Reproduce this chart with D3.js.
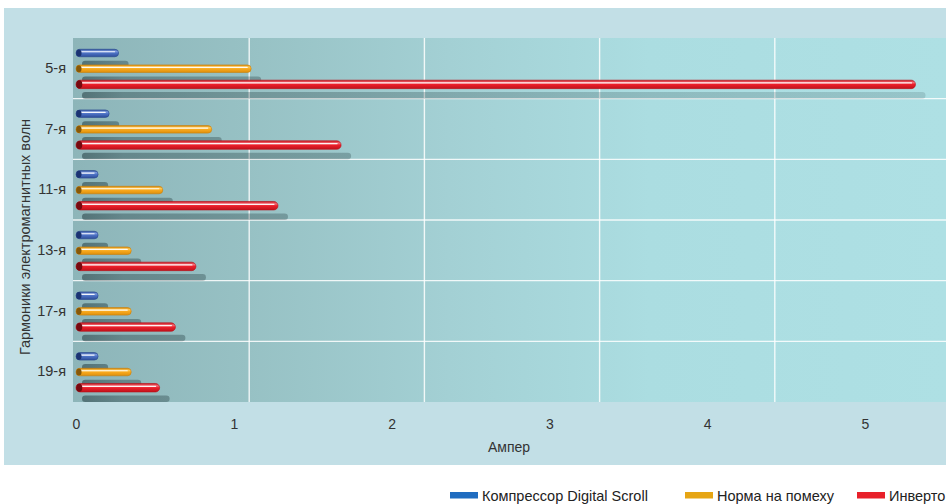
<!DOCTYPE html>
<html>
<head>
<meta charset="utf-8">
<script src="https://cdn.jsdelivr.net/npm/d3@7/dist/d3.min.js"></script>
<style>
  html, body { margin: 0; padding: 0; background: #ffffff; }
  svg { display: block; font-family: "Liberation Sans", Arial, Helvetica, sans-serif; }
</style>
</head>
<body>
<svg id="chart" width="946" height="504"></svg>
<script>
// Harmonic currents by order, amperes
const categories = ["5-я", "7-я", "11-я", "13-я", "17-я", "19-я"];
const seriesNames = ["Компрессор Digital Scroll", "Норма на помеху", "Инверто"];
const scrollValues = [0.27, 0.21, 0.14, 0.14, 0.14, 0.14];
const limitValues = [1.11, 0.86, 0.55, 0.35, 0.35, 0.35];
const inverterValues = [5.32, 1.68, 1.28, 0.76, 0.63, 0.53];
const tickValues = [0, 1, 2, 3, 4, 5];
const xTitle = "Ампер";
const yTitle = "Гармоники электромагнитных волн";

const seriesKeys = ["scroll", "limit", "inverter"];
const seriesValues = { scroll: scrollValues, limit: limitValues, inverter: inverterValues };

const svg = d3.select("#chart");
const W = 946, H = 504;
const plot = { left: 73, top: 38, right: 953, bottom: 402 };

// Styles per series
const styles = {
  scroll:   { h: 7.5, stops: ["#34559f", "#7d9be0", "#4d72c4", "#2f4f9c"], stroke: "#27468f", cap: "#1b3372", legend: "#1f6cc0" },
  limit:    { h: 7.5, stops: ["#d9890a", "#ffcd5c", "#f9aa1f", "#df900c"], stroke: "#c9800a", cap: "#875808", legend: "#e6a514" },
  inverter: { h: 8.5, stops: ["#c8141e", "#f6707a", "#ec1f2a", "#c0121c"], stroke: "#b81019", cap: "#760910", legend: "#e8202a" }
};

// Scales: value axis, back wall grid, category bands and bar slots in a band
const x = d3.scaleLinear().domain([0, 5]).range([76, 865]);
const wall = d3.scaleLinear().domain([0, 5]).range([74, 950]);
const y = d3.scaleBand().domain(categories).range([plot.top, plot.bottom]);
const slot = d3.scalePoint().domain(seriesKeys).range([15, 46.4]);

const defs = svg.append("defs");

const bgGrad = defs.append("linearGradient").attr("id", "bgGrad")
  .attr("gradientUnits", "userSpaceOnUse").attr("x1", plot.left).attr("x2", W).attr("y1", 0).attr("y2", 0);
[[0, "#8db5b9"], [0.2, "#97c1c4"], [0.43, "#a3d0d4"], [0.66, "#abdde1"], [1, "#aee0e4"]]
  .forEach(([o, c]) => bgGrad.append("stop").attr("offset", o).attr("stop-color", c));

const shGrad = defs.append("linearGradient").attr("id", "shGrad")
  .attr("gradientUnits", "userSpaceOnUse").attr("x1", 80).attr("x2", 940).attr("y1", 0).attr("y2", 0);
[[0, 0.42], [0.05, 0.30], [0.2, 0.25], [0.6, 0.18], [1, 0.13]]
  .forEach(([o, a]) => shGrad.append("stop").attr("offset", o).attr("stop-color", "#001418").attr("stop-opacity", a));

seriesKeys.forEach(k => {
  const g = defs.append("linearGradient").attr("id", "bar-" + k)
    .attr("x1", 0).attr("x2", 0).attr("y1", 0).attr("y2", 1);
  const s = styles[k].stops;
  [[0, s[0]], [0.28, s[1]], [0.5, s[2]], [1, s[3]]]
    .forEach(([o, c]) => g.append("stop").attr("offset", o).attr("stop-color", c));
});

// Outer panel
svg.append("rect").attr("x", 4).attr("y", 8).attr("width", W).attr("height", 457).attr("fill", "#c2dfe6");

// Plot background
svg.append("rect").attr("x", plot.left).attr("y", plot.top)
  .attr("width", plot.right - plot.left).attr("height", plot.bottom - plot.top)
  .attr("fill", "url(#bgGrad)");

// Vertical grid on the back wall
svg.append("g").selectAll("line").data(tickValues.filter(t => t > 0 && t < 5)).join("line")
  .attr("x1", d => wall(d)).attr("x2", d => wall(d))
  .attr("y1", plot.top).attr("y2", plot.bottom)
  .attr("stroke", "#ffffff").attr("stroke-opacity", 0.85).attr("stroke-width", 1.4);

// Row separators
svg.append("g").selectAll("line").data(categories.slice(1)).join("line")
  .attr("x1", plot.left).attr("x2", plot.right)
  .attr("y1", d => y(d)).attr("y2", d => y(d))
  .attr("stroke", "#ffffff").attr("stroke-opacity", 0.85).attr("stroke-width", 1.3);

// Flattened bar records
const bars = [];
categories.forEach((c, i) => seriesKeys.forEach(k => bars.push({ cat: c, key: k, value: seriesValues[k][i] })));
const cy = d => y(d.cat) + slot(d.key);

// Drop shadows behind each bar
svg.append("g").selectAll("rect").data(bars).join("rect")
  .attr("x", x(0) + 6)
  .attr("y", d => cy(d) + 11 - 3.3)
  .attr("width", d => x(d.value) - x(0) + 4)
  .attr("height", 6.6).attr("rx", 3.3)
  .attr("fill", "url(#shGrad)");

// Cylindrical bars
const barG = svg.append("g").selectAll("g").data(bars).join("g");
barG.append("rect")
  .attr("x", x(0))
  .attr("y", d => cy(d) - styles[d.key].h / 2)
  .attr("width", d => x(d.value) - x(0))
  .attr("height", d => styles[d.key].h)
  .attr("rx", d => styles[d.key].h / 2)
  .attr("fill", d => "url(#bar-" + d.key + ")")
  .attr("stroke", d => styles[d.key].stroke).attr("stroke-width", 0.6);
barG.append("line")
  .attr("x1", x(0) + 5)
  .attr("x2", d => x(d.value) - 4)
  .attr("y1", d => cy(d) - styles[d.key].h * 0.17)
  .attr("y2", d => cy(d) - styles[d.key].h * 0.17)
  .attr("stroke", "#ffffff").attr("stroke-opacity", 0.92).attr("stroke-width", 1.2)
  .attr("stroke-linecap", "round");
barG.append("ellipse")
  .attr("cx", d => x(0) + styles[d.key].h * 0.38)
  .attr("cy", cy)
  .attr("rx", d => styles[d.key].h * 0.36)
  .attr("ry", d => styles[d.key].h / 2 - 0.2)
  .attr("fill", d => styles[d.key].cap);

// Value axis
const xAxis = svg.append("g").attr("transform", `translate(0,${plot.bottom + 17})`)
  .call(d3.axisBottom(x).tickValues(tickValues).tickSize(0).tickPadding(0).tickFormat(d3.format("d")));
xAxis.select(".domain").remove();
xAxis.selectAll("text").attr("font-size", 14).attr("fill", "#333333").attr("font-family", null);

svg.append("text").attr("x", 509).attr("y", 452).attr("text-anchor", "middle")
  .attr("font-size", 14).attr("fill", "#333333").text(xTitle);

// Category axis
const yAxis = svg.append("g").attr("transform", `translate(${plot.left},0)`)
  .call(d3.axisLeft(y).tickSize(0).tickPadding(7));
yAxis.select(".domain").remove();
yAxis.selectAll("text").attr("font-size", 14.5).attr("fill", "#333333").attr("font-family", null);

svg.append("text").attr("transform", "translate(25,237) rotate(-90)")
  .attr("text-anchor", "middle").attr("dy", "0.35em")
  .attr("font-size", 14.5).attr("fill", "#333333").text(yTitle);

// Legend
const legendX = [450, 685, 857];
const lg = svg.append("g").selectAll("g").data(seriesKeys).join("g")
  .attr("transform", (d, i) => `translate(${legendX[i]},0)`);
lg.append("rect").attr("x", 0).attr("y", 492).attr("width", 28).attr("height", 6.5)
  .attr("fill", d => styles[d].legend);
lg.append("text").attr("x", 32).attr("y", 501).attr("font-size", 14.5).attr("fill", "#222222")
  .text((d, i) => seriesNames[i]);
</script>
</body>
</html>
